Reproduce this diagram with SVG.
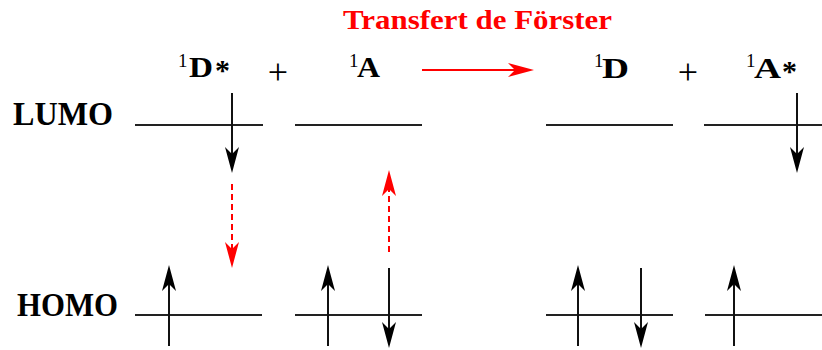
<svg xmlns="http://www.w3.org/2000/svg" width="822" height="350" viewBox="0 0 822 350">
<defs>
<style>
.t{font-family:"Liberation Serif","Times New Roman",serif;font-weight:bold;fill:#000}
.lvl{stroke:#222;stroke-width:2;fill:none}
.spin{stroke:#111;stroke-width:2;fill:none;marker-end:url(#ah)}
.red{stroke:#f00;stroke-width:2;fill:none;marker-end:url(#ahr)}
.dash{stroke-dasharray:6 4}
</style>
<marker id="ah" markerUnits="userSpaceOnUse" markerWidth="28" markerHeight="16" refX="18" refY="7" orient="auto" viewBox="0 0 28 16">
<path d="M0,0 L26,7 L0,14 L7,7 Z" fill="#000"/>
</marker>
<marker id="ahr" markerUnits="userSpaceOnUse" markerWidth="28" markerHeight="16" refX="18" refY="7" orient="auto" viewBox="0 0 28 16">
<path d="M0,0 L26,7 L0,14 L7,7 Z" fill="#f00"/>
</marker>
</defs>
<rect width="822" height="350" fill="#fff"/>

<g id="title">
<text class="t" x="343" y="29" font-size="28" style="fill:#f00" textLength="269" lengthAdjust="spacingAndGlyphs">Transfert de Förster</text>
</g>

<g id="labels">
<text class="t" x="13" y="125" font-size="33" textLength="100" lengthAdjust="spacingAndGlyphs">LUMO</text>
<text class="t" x="17" y="316" font-size="33" textLength="101" lengthAdjust="spacingAndGlyphs">HOMO</text>
</g>

<g id="state-D-star">
<text class="t" font-size="19" x="178" y="67" style="font-weight:normal">1</text>
<text class="t" font-size="30" x="189" y="77" textLength="24" lengthAdjust="spacingAndGlyphs">D</text>
<text class="t" font-size="30" x="215" y="80" textLength="15" lengthAdjust="spacingAndGlyphs">*</text>
</g>
<g id="plus1"><text class="t" font-size="36" x="278" y="84" text-anchor="middle" style="font-weight:normal">+</text></g>
<g id="state-A">
<text class="t" font-size="19" x="349" y="67" style="font-weight:normal">1</text>
<text class="t" font-size="30" x="357" y="77" textLength="23" lengthAdjust="spacingAndGlyphs">A</text>
</g>
<g id="state-D">
<text class="t" font-size="19" x="594" y="67" style="font-weight:normal">1</text>
<text class="t" font-size="30" x="602" y="78" textLength="27" lengthAdjust="spacingAndGlyphs">D</text>
</g>
<g id="plus2"><text class="t" font-size="36" x="688" y="84" text-anchor="middle" style="font-weight:normal">+</text></g>
<g id="state-A-star">
<text class="t" font-size="19" x="746" y="67" style="font-weight:normal">1</text>
<text class="t" font-size="30" x="754" y="78" textLength="27" lengthAdjust="spacingAndGlyphs">A</text>
<text class="t" font-size="30" x="782" y="81" textLength="15" lengthAdjust="spacingAndGlyphs">*</text>
</g>

<g id="levels">
<line class="lvl" x1="135" y1="125" x2="263" y2="125"/>
<line class="lvl" x1="295" y1="125" x2="422" y2="125"/>
<line class="lvl" x1="546" y1="125" x2="673" y2="125"/>
<line class="lvl" x1="704" y1="125" x2="822" y2="125"/>
<line class="lvl" x1="135" y1="315" x2="262" y2="315"/>
<line class="lvl" x1="295" y1="315" x2="422" y2="315"/>
<line class="lvl" x1="546" y1="315" x2="673" y2="315"/>
<line class="lvl" x1="705" y1="315" x2="822" y2="315"/>
</g>

<g id="connectors">
<line class="spin" x1="232" y1="93" x2="232" y2="165"/>
<line class="spin" x1="797" y1="93" x2="797" y2="165"/>
<line class="spin" x1="169" y1="346" x2="169" y2="273"/>
<line class="spin" x1="328" y1="346" x2="328" y2="273"/>
<line class="spin" x1="578" y1="346" x2="578" y2="273"/>
<line class="spin" x1="734" y1="346" x2="734" y2="273"/>
<line class="spin" x1="389" y1="268" x2="389" y2="340"/>
<line class="spin" x1="641" y1="268" x2="641" y2="340"/>
<line class="red dash" x1="232" y1="184" x2="232" y2="260"/>
<line class="red dash" x1="389" y1="252" x2="389" y2="178"/>
<line class="red" x1="422" y1="70" x2="526" y2="70"/>
</g>
</svg>
